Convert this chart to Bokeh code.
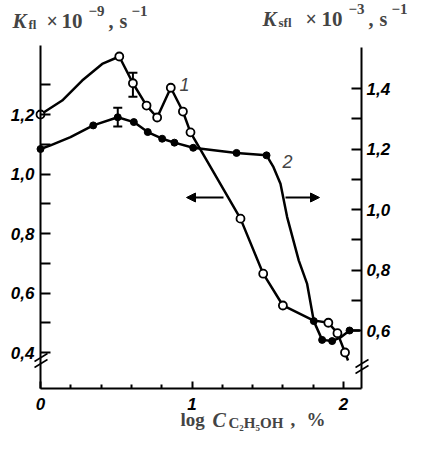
from bokeh.plotting import figure
from bokeh.models import (Range1d, LinearAxis, FixedTicker, CustomJSTickFormatter,
                          Label, Arrow, NormalHead, Whisker, TeeHead, ColumnDataSource)
from bokeh.embed import file_html
from bokeh.resources import INLINE

# ---------------- data ----------------
# curve 1: K_fl (left axis), open circles
c1_x = [0, 0.52, 0.61, 0.70, 0.77, 0.86, 0.94, 0.99, 1.32, 1.47, 1.60, 1.90, 1.96, 2.01]
c1_y = [1.20, 1.395, 1.305, 1.23, 1.19, 1.29, 1.21, 1.14, 0.85, 0.665, 0.558, 0.50, 0.465, 0.40]
# drawn path of curve 1 (includes unmarked bends)
c1_path_x = [0, 0.143, 0.275, 0.407, 0.52, 0.61, 0.70, 0.77, 0.86, 0.94, 0.99, 1.32, 1.47, 1.60,
             1.80, 1.90, 1.96, 2.01, 2.03]
c1_path_y = [1.20, 1.247, 1.314, 1.370, 1.395, 1.305, 1.23, 1.19, 1.29, 1.21, 1.14, 0.85, 0.665, 0.558,
             0.508, 0.50, 0.465, 0.40, 0.373]
c1_err_x = [0.61]
c1_err_lo = [1.26]
c1_err_hi = [1.34]

# curve 2: K_sfl (right axis), filled circles
c2_x = [0, 0.348, 0.51, 0.616, 0.708, 0.803, 0.884, 1.008, 1.294, 1.492, 1.804, 1.859, 1.925, 2.040]
c2_y = [1.20, 1.278, 1.305, 1.289, 1.256, 1.234, 1.221, 1.204, 1.187, 1.179, 0.631, 0.569, 0.565, 0.600]
c2_path_x = [0, 0.066, 0.198, 0.348, 0.51, 0.616, 0.708, 0.803, 0.884, 1.008, 1.294, 1.492, 1.538,
             1.584, 1.628, 1.705, 1.760, 1.804, 1.859, 1.925, 1.98, 2.040, 2.108]
c2_path_y = [1.20, 1.212, 1.239, 1.278, 1.305, 1.289, 1.256, 1.234, 1.221, 1.204, 1.187, 1.179, 1.14,
             1.085, 0.975, 0.831, 0.754, 0.631, 0.569, 0.565, 0.577, 0.600, 0.600]
c2_err_x = [0.51]
c2_err_lo = [1.274]
c2_err_hi = [1.336]

# axis ticks
x_major = [0, 1, 2]
x_minor = [0.2, 0.4, 0.6, 0.8, 1.2, 1.4, 1.6, 1.8]
yl_major = [0.4, 0.6, 0.8, 1.0, 1.2]
yl_minor = [0.5, 0.7, 0.9, 1.1, 1.3]
yr_major = [0.6, 0.8, 1.0, 1.2, 1.4]
yr_minor = [0.7, 0.9, 1.1, 1.3]

# ---------------- geometry ----------------
W, H = 417, 434
# the plotting frame covers the whole canvas; axes are pinned with fixed_location
AX_L, AX_R, AX_T, AX_B = 40, 361, 45, 388      # pixel box of the drawn axes
SX = 151.5            # px per x unit   (x=0 at AX_L)
SYL = 297.5           # px per left-y unit  (1.2 at 114 px)
SYR = 302.5           # px per right-y unit (1.4 at 88 px)

def px(x):
    return (x - AX_L) / SX

def py(y):
    return 1.2 + (114 - y) / SYL

def pyr(y):
    return 1.4 + (88 - y) / SYR

p = figure(width=W, height=H, x_range=Range1d(px(0), px(W)), y_range=Range1d(py(H), py(0)),
           output_backend="svg", toolbar_location=None, title=None,
           min_border=0, min_border_left=0, min_border_right=0,
           min_border_top=0, min_border_bottom=0)
p.extra_y_ranges = {"right": Range1d(pyr(H), pyr(0))}
p.outline_line_color = None
p.xgrid.visible = False
p.ygrid.visible = False
p.background_fill_color = "white"
p.border_fill_color = "white"

fmt = CustomJSTickFormatter(code="return tick.toFixed(1).replace('.', ',');")
fmt_x = CustomJSTickFormatter(code="return tick.toFixed(0);")

LABEL_FONT = "Liberation Sans"

def style_axis(ax, tick_in, minor_in, standoff):
    ax.axis_line_width = 2
    ax.axis_line_color = "black"
    ax.major_tick_line_width = 2
    ax.minor_tick_line_width = 2
    ax.major_tick_line_color = "black"
    ax.minor_tick_line_color = "black"
    ax.major_tick_in = tick_in
    ax.major_tick_out = 0
    ax.minor_tick_in = minor_in
    ax.minor_tick_out = 0
    ax.major_label_text_font = LABEL_FONT
    ax.major_label_text_font_style = "bold italic"
    ax.major_label_text_font_size = "17px"
    ax.major_label_text_color = "black"
    ax.major_label_standoff = standoff

xa = p.xaxis[0]
xa.ticker = FixedTicker(ticks=x_major, minor_ticks=x_minor)
xa.formatter = fmt_x
xa.fixed_location = py(AX_B)
xa.bounds = (px(AX_L), px(AX_R))
style_axis(xa, 7, 4, 9)

yl = p.yaxis[0]
yl.ticker = FixedTicker(ticks=yl_major, minor_ticks=yl_minor)
yl.formatter = fmt
yl.fixed_location = px(AX_L)
yl.bounds = (py(AX_B), py(AX_T))
style_axis(yl, 10, 10, 6)

yr = LinearAxis(y_range_name="right")
yr.ticker = FixedTicker(ticks=yr_major, minor_ticks=yr_minor)
yr.formatter = fmt
yr.fixed_location = px(AX_R)
yr.bounds = (pyr(AX_B), pyr(47))
style_axis(yr, 10, 10, 5)
p.add_layout(yr, "right")

# ---------------- curves ----------------
p.line(c1_path_x, c1_path_y, line_color="black", line_width=2.5, line_join="round")
p.line(c2_path_x, c2_path_y, line_color="black", line_width=2.5, line_join="round",
       y_range_name="right")

e1 = ColumnDataSource(dict(x=c1_err_x, lo=c1_err_lo, hi=c1_err_hi))
p.add_layout(Whisker(source=e1, base="x", lower="lo", upper="hi", line_width=2,
                     lower_head=TeeHead(size=9, line_width=2),
                     upper_head=TeeHead(size=9, line_width=2)))
e2 = ColumnDataSource(dict(x=c2_err_x, lo=c2_err_lo, hi=c2_err_hi))
p.add_layout(Whisker(source=e2, base="x", lower="lo", upper="hi", line_width=2,
                     y_range_name="right",
                     lower_head=TeeHead(size=9, line_width=2),
                     upper_head=TeeHead(size=9, line_width=2)))

p.scatter(c1_x, c1_y, marker="circle", size=8, fill_color="white", line_color="black",
          line_width=1.8)
p.scatter(c2_x, c2_y, marker="circle", size=7, fill_color="black", line_color="black",
          y_range_name="right")

# arrows indicating which axis belongs to which curve
p.add_layout(Arrow(x_start=px(223), y_start=py(197), x_end=px(186), y_end=py(197), line_width=2,
                   end=NormalHead(size=9, fill_color="black", line_color="black")))
p.add_layout(Arrow(x_start=px(285), y_start=py(197), x_end=px(319), y_end=py(197), line_width=2,
                   end=NormalHead(size=9, fill_color="black", line_color="black")))

# axis break marks
for dy in (0, 6):
    p.add_layout(Arrow(x_start=px(34), y_start=py(367 - dy), x_end=px(47), y_end=py(359 - dy),
                       line_width=1.5, end=None))
    p.add_layout(Arrow(x_start=px(355), y_start=py(373 - dy), x_end=px(368), y_end=py(365 - dy),
                       line_width=1.5, end=None))

# curve numbers
for t, (lx, ly) in (("1", (184, 84)), ("2", (287, 161))):
    p.add_layout(Label(x=px(lx), y=py(ly), text=t, text_font=LABEL_FONT,
                       text_font_style="italic", text_font_size="18px",
                       text_align="center", text_baseline="middle"))

# ---------------- axis titles ----------------
SERIF = "Liberation Serif"

def piece(text, x, y, size, style="bold"):
    p.add_layout(Label(x=px(x), y=py(y), text=text, text_font=SERIF, text_font_style=style,
                       text_font_size=size, text_align="left", text_baseline="alphabetic"))

# left title: K_fl x 10^-9, s^-1
piece("K", 12, 20, "21px", "bold italic")
piece("fl", 28, 24, "13px")
piece("\u00d7", 46, 20, "20px")
piece("10", 61, 20, "21px")
piece("\u22129", 88, 10, "15px")
piece(",", 108, 20, "20px")
piece("s", 119, 20, "20px")
piece("\u22121", 131, 10, "15px")
# right title: K_sfl x 10^-3, s^-1
piece("K", 262, 18, "21px", "bold italic")
piece("sfl", 278, 22, "13px")
piece("\u00d7", 305, 18, "20px")
piece("10", 321, 18, "21px")
piece("\u22123", 348, 8, "15px")
piece(",", 368, 18, "20px")
piece("s", 379, 18, "20px")
piece("\u22121", 391, 8, "15px")

# bottom title: log C_C2H5OH, %
piece("log", 180, 419, "19px")
piece("C", 212, 419, "20px", "bold italic")
piece("C\u2082H\u2085OH", 228, 422, "15px")
piece(",", 290, 419, "19px")
piece("%", 306, 419, "19px")

open("out.html", "w").write(file_html(p, INLINE))
